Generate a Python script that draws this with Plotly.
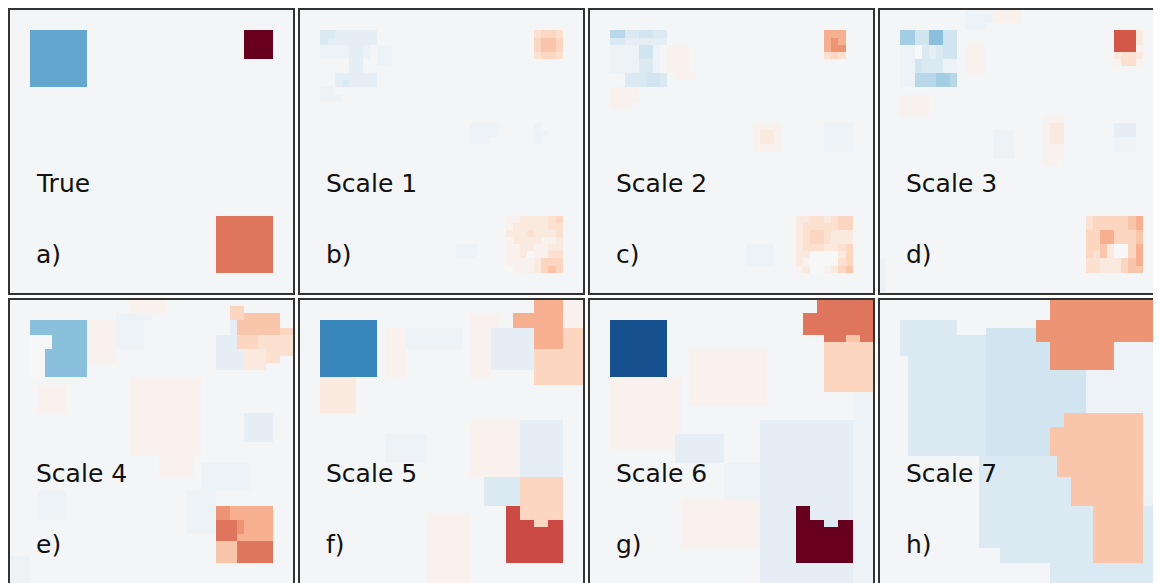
import plotly.graph_objects as go

# page is drawn inside an 8px body margin, so the figure is 8px smaller
W, H = 1153, 575
N = 40

# value for each map character (diverging, -1 .. 1)
LEVELS = {'.': -0.02, 'o': 0.0,
          'a': -0.06, 'b': -0.10, 'c': -0.15, 'd': -0.20, 'e': -0.28, 'f': -0.35,
          'g': -0.42, 'h': -0.52, 'i': -0.66, 'j': -0.88,
          'A': 0.04, 'B': 0.10, 'C': 0.16, 'D': 0.22, 'E': 0.28, 'F': 0.36,
          'G': 0.45, 'H': 0.54, 'I': 0.66, 'J': 0.62, 'K': 1.0}

titles = ["True", "Scale 1", "Scale 2", "Scale 3", "Scale 4", "Scale 5", "Scale 6", "Scale 7"]
letters = ["a)", "b)", "c)", "d)", "e)", "f)", "g)", "h)"]

# each map: list of (row repeat, run-length encoded row); rows padded with background
map_true = [(3, ""), (4, "3. 8h 22. 4K"), (4, "3. 8h"), (18, ""), (8, "29. 8H"), (3, "")]

map_s1 = [(3, ""),
          (1, "3. 2c 6b 22. 1C 2D 1C"), (1, "3. 1c 7b 22. 1D 2E 1D"),
          (1, "3. 4a 2b 1a 1. 2a 20. 1D 2E 1D"), (1, "3. 4a 2b 1a 1. 2a 20. 1C 2D 1C"),
          (1, "7. 2b 2. 2a"), (1, "7. 2b"), (1, "5. 6b"), (1, "5. 1b 1c 4b"),
          (1, "3. 2a"), (1, "3. 3a"), (3, ""),
          (1, "24. 4a 5. 1a"), (1, "24. 4a 5. 2a"), (1, "24. 3a 6. 1a"), (10, ""),
          (1, "29. 2A 4B 1C 1D"), (1, "29. 1A 5B 2C"), (1, "29. 3B 1C 3B 1C"),
          (1, "29. 1A 4B 2A 1B"), (1, "22. 3a 4. 2A 2B 2A 2B"), (1, "22. 3a 4. 2A 1B 1o 2A 2C"),
          (1, "29. 4A 1B 3D"), (1, "29. 1o 3A 1B 1D 1E 1D"), (3, "")]

map_s2 = [(3, ""),
          (1, "3. 2e 2c 2d 2c 22. 3F"), (1, "3. 2c 6b 22. 1F 1G 1F"),
          (1, "3. 4a 2d 1a 1. 3A 19. 1F 2G"), (1, "3. 4a 2d 1a 1. 3A 19. 1C 1D 1C"),
          (2, "3. 4a 2c 1a 1. 3A"), (1, "5. 3c 2d 1c 1. 3A"), (1, "5. 3c 2d 1c"),
          (2, "3. 4A"), (1, "3. 3A"), (2, ""),
          (1, "23. 4A 6. 4a"), (2, "23. 1A 2B 1A 6. 4a"), (1, "23. 4A 6. 4a"), (9, ""),
          (1, "29. 2B 2C 1B 1C 2D"), (1, "29. 1B 5C 2D"), (2, "29. 1B 1C 2D 1C 3B"),
          (1, "22. 4a 3. 1B 3C 2B 1C 1D"), (1, "22. 4a 3. 2B 4o 1B 1D"),
          (1, "22. 4a 3. 1B 1A 4o 1C 1D"), (1, "29. 1A 1B 2o 1A 1B 1D 1E"), (3, "")]

map_s3 = [(2, "12. 4a 4A"), (1, "12. 3a"),
          (2, "3. 2f 2d 2g 2d 22. 3J 1B"),
          (1, "3. 2a 1o 1c 1b 1c 2d 1. 3A 18. 3J 1A"),
          (1, "3. 2a 1o 1c 1b 1c 2d 1. 3A 18. 1B 2C 1B"),
          (1, "3. 2a 1d 3c 2a 1. 3A 18. 1A 2C 1A"), (1, "3. 2a 1d 3c 2a 1. 3A"),
          (2, "3. 2a 3e 2f 1e"), (1, ""), (3, "3. 4A"), (1, "23. 3A"),
          (1, "23. 1A 2B 7. 3b"), (1, "16. 3a 4. 1A 2B 7. 3b"), (1, "16. 3a 4. 1A 2B 7. 3a"),
          (1, "16. 3a 4. 3A 7. 3a"), (1, "16. 3a 4. 3A"), (1, "23. 2A"), (7, ""),
          (2, "29. 1C 5D 1E 1F"), (2, "29. 2D 2F 3D 1E"), (1, "29. 2D 1E 1B 2o 1D 1F"),
          (1, "29. 1D 1C 1E 1B 2o 1D 1F"), (1, "1a 28. 2C 3B 1D 1E 1F"),
          (1, "1a 28. 2C 3B 1D 2E"), (3, "1a")]

map_s4 = [(1, "17. 5A"), (1, "17. 5A 9. 2D"), (1, "15. 5a 11. 2D 5E"),
          (1, "3. 8g 4A 4a 12. 1b 6E"), (1, "3. 8g 4A 4a 12. 1b 6E 2D"),
          (2, "3. 3o 5g 4A 4a 10. 3b 3D 5C"), (1, "3. 2o 6g 4A 14. 4b 3B 4C"),
          (1, "3. 2o 6g 4A 14. 4b 3B 2C"), (1, "3. 2o 6g 18. 4b 3B"), (1, "3. 2o 6g"),
          (1, "17. 10A"), (4, "4. 4A 9. 10A"), (4, "17. 10A 6. 4b"), (2, "17. 10A"),
          (1, "21. 5A"), (2, "21. 5A 1. 7a"), (2, "27. 7a"), (2, "4. 4a 17. 4a"),
          (2, "4. 4a 17. 4a 2G 6F"), (2, "25. 4a 3H 1G 4F"), (1, "29. 3H 5F"),
          (2, "29. 3E 5H"), (1, "3a 26. 3E 5H"), (3, "3a")]

map_s5 = [(2, "33. 4F 3A"), (1, "24. 4A 2. 7F 3A"), (1, "3. 8i 13. 4A 2. 7F 3A"),
          (3, "3. 8i 1. 3A 8a 1. 3A 6b 4F 3D"), (3, "3. 8i 1. 3A 9. 3A 6b 7D"),
          (1, "3. 8i 1. 3A 9. 3A 6. 7D"), (1, "3. 5B 25. 7D"), (4, "3. 5B"), (1, ""),
          (2, "24. 7A 6b"), (4, "12. 6a 6. 7A 6b"), (2, "24. 7A 6b"), (4, "26. 5c 6D"),
          (1, "29. 2I 6D"), (1, "18. 6A 5. 2I 6D"), (1, "18. 6A 5. 4I 2D 2I"),
          (5, "18. 6A 5. 8I"), (3, "18. 6A")]

map_s6 = [(2, "32. 8H"), (1, "30. 10H"), (2, "3. 8j 19. 10H"), (1, "3. 8j 22. 3H 2E 2H"),
          (1, "3. 8j 22. 7D"), (4, "3. 8j 3. 11A 8. 7D"), (2, "3. 10A 1. 11A 8. 7D"),
          (2, "3. 10A 1. 11A 12. 3a"), (2, "3. 10A 24. 3a"), (2, "3. 10A 11. 13b 3a"),
          (2, "3. 9A 7b 5. 13b 3a"), (2, "12. 7b 5. 13b 3a"), (5, "19. 5a 13b 3a"),
          (1, "13. 11A 13b 3a"), (2, "13. 11A 5b 2K 6b 3a"), (1, "13. 11A 5b 4K 2c 2K 3a"),
          (3, "13. 11A 5b 8K 3a"), (2, "24. 5b 8K 3a"), (3, "24. 13b 3a")]

map_s7 = [(3, "24. 16G"), (1, "3. 8c 11. 18G"), (1, "3. 8c 4. 7d 18G"), (1, "3. 12c 7d 18G"),
          (2, "3. 12c 9d 9G 7a"), (2, "4. 11c 9d 9G 7a"), (6, "4. 11c 14d 11a"),
          (2, "4. 11c 11d 11E 3a"), (4, "4. 11c 9d 13E 3a"), (3, "14. 11c 12E 3a"),
          (4, "14. 13c 10E 3a"), (6, "14. 16c 7E 3c"), (2, "17. 13c 7E 3c"), (3, "24. 16c")]

maps = [map_true, map_s1, map_s2, map_s3, map_s4, map_s5, map_s6, map_s7]

RDBU_R = ["rgb(5,48,97)", "rgb(33,102,172)", "rgb(67,147,195)", "rgb(146,197,222)",
          "rgb(209,229,240)", "rgb(247,247,247)", "rgb(253,219,199)", "rgb(244,165,130)",
          "rgb(214,96,77)", "rgb(178,24,43)", "rgb(103,0,31)"]
colorscale = [[i / 10, c] for i, c in enumerate(RDBU_R)]


def decode(groups):
    rows = []
    for rep, rle in groups:
        s = ""
        for tok in rle.split():
            s += tok[-1] * int(tok[:-1])
        s = (s + "." * N)[:N]
        rows.extend([s] * rep)
    rows = (rows + ["." * N] * N)[:N]
    return [[LEVELS[ch] for ch in row] for row in rows]


PW = 285  # panel size in px
fig = go.Figure()
layout = dict(width=W, height=H, margin=dict(l=0, r=0, t=0, b=0),
              paper_bgcolor="white", plot_bgcolor="white", showlegend=False,
              shapes=[], annotations=[])

for k in range(8):
    r, c = divmod(k, 4)
    px0 = 1 + 290 * c
    py0 = 1 + 290 * r
    px1 = min(px0 + PW, W)
    py1 = min(py0 + PW, H)
    fx = (px1 - px0) / PW
    fy = (py1 - py0) / PW
    sfx = "" if k == 0 else str(k + 1)
    z = decode(maps[k])
    fig.add_trace(go.Heatmap(z=z, x=list(range(N)), y=list(range(N)),
                             colorscale=colorscale, zmin=-1, zmax=1, showscale=False,
                             xaxis="x" + sfx, yaxis="y" + sfx, hoverinfo="skip"))
    layout["xaxis" + sfx] = dict(domain=[px0 / W, px1 / W], range=[-0.5, -0.5 + N * fx],
                                 visible=False, anchor="y" + sfx, fixedrange=True)
    layout["yaxis" + sfx] = dict(domain=[1 - py1 / H, 1 - py0 / H], range=[-0.5 + N * fy, -0.5],
                                 visible=False, anchor="x" + sfx, fixedrange=True)
    layout["shapes"].append(dict(type="rect", xref="paper", yref="paper",
                                 x0=px0 / W, x1=(px0 + PW) / W,
                                 y0=1 - (py0 + PW) / H, y1=1 - py0 / H,
                                 line=dict(color="#333333", width=2), layer="above"))
    layout["annotations"].append(dict(text=titles[k], xref="paper", yref="paper",
                                      x=(px0 + 25) / W, y=1 - (py0 + 174) / H,
                                      xanchor="left", yanchor="middle", showarrow=False,
                                      font=dict(family="DejaVu Sans", size=25, color="#111111")))
    layout["annotations"].append(dict(text=letters[k], xref="paper", yref="paper",
                                      x=(px0 + 25) / W, y=1 - (py0 + 245) / H,
                                      xanchor="left", yanchor="middle", showarrow=False,
                                      font=dict(family="DejaVu Sans", size=25, color="#111111")))

fig.update_layout(**layout)
fig.write_html("out.html")
